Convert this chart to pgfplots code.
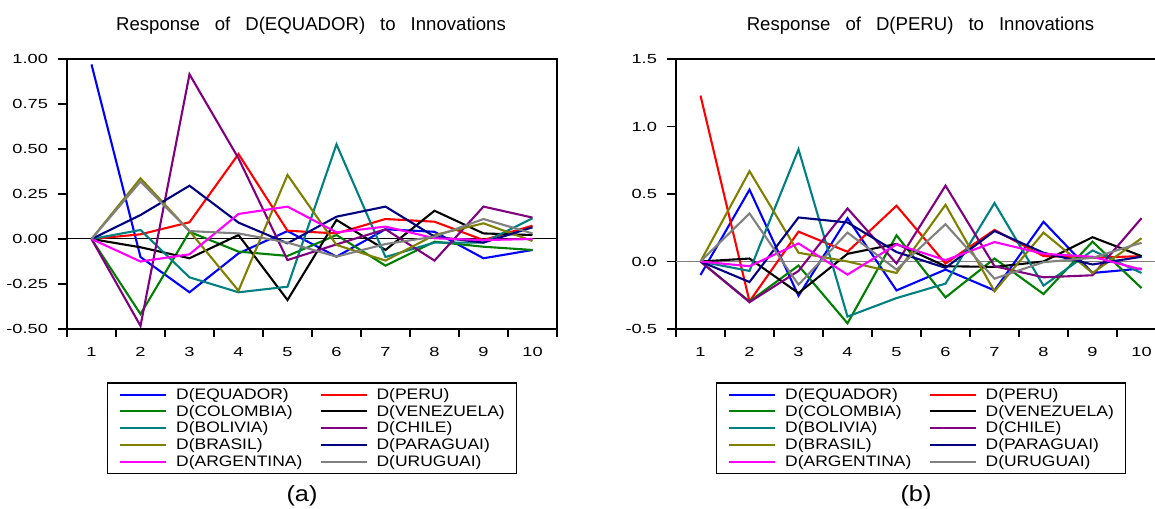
\documentclass[border=0pt]{standalone}
\usepackage{fontspec}
\setmainfont{Liberation Sans}
\newfontfamily\tickfont{Liberation Sans}[FakeStretch=1.38]
\newfontfamily\legfont{Liberation Sans}[FakeStretch=1.15]
\usepackage{pgfplots}
\pgfplotsset{compat=1.18}
\definecolor{cBlue}{RGB}{0,0,255}
\definecolor{cRed}{RGB}{255,0,0}
\definecolor{cGreen}{RGB}{0,128,0}
\definecolor{cBlack}{RGB}{0,0,0}
\definecolor{cTeal}{RGB}{0,128,128}
\definecolor{cPurple}{RGB}{128,0,128}
\definecolor{cOlive}{RGB}{128,128,0}
\definecolor{cNavy}{RGB}{0,0,128}
\definecolor{cMagenta}{RGB}{255,0,255}
\definecolor{cGray}{RGB}{128,128,128}
\newcommand\gap{\hspace{7.5pt}}
\pgfplotsset{
  evstyle/.style={
    scale only axis, width=245pt, height=135pt,
    xmin=0.5, xmax=10.5,
    xtick={1,2,3,4,5,6,7,8,9,10},
    xticklabels={1,2,3,4,5,6,7,8,9,10},
    minor xtick={0.5,1.5,2.5,3.5,4.5,5.5,6.5,7.5,8.5,9.5,10.5},
    major x tick style={draw=none},
    tick align=outside, xtick pos=bottom, ytick pos=left,
    major tick length=4.5pt, minor tick length=4pt,
    tick style={black, line width=0.6pt},
    axis line style={line width=0.9pt},
    ticklabel style={font=\tickfont\fontsize{6.6}{8}\selectfont},
    yticklabel style={xshift=-1.5pt},
    xticklabel style={yshift=-1pt},
    /pgf/number format/assume math mode=true,
    legend columns=2, legend cell align=left,
    legend style={at={(0.5,-0.2)}, anchor=north, draw=black, line width=0.6pt,
      font=\legfont\fontsize{7.6}{9}\selectfont,
      inner xsep=6pt, inner ysep=2.2pt, outer sep=0pt, row sep=1.2pt,
      nodes={inner sep=0pt, text height=6pt, text depth=1.2pt},
      /tikz/every odd column/.append style={column sep=4.5pt},
      /tikz/every even column/.append style={column sep=8.6pt}},
    legend image code/.code={\draw[##1, line width=1pt] (0pt,0pt) -- (23pt,0pt);},
    every axis plot/.append style={line width=1.05pt, mark=none},
  }
}
\begin{document}
\begin{tikzpicture}[x=1pt,y=1pt]
\useasboundingbox (0,0) rectangle (577.5,254);
\clip (0,0) rectangle (577.5,254);

\node[anchor=base, font=\fontsize{9.3}{11}\selectfont] at (155.5,238.5) {Response\gap of\gap D(EQUADOR)\gap to\gap Innovations};
\node[anchor=base, font=\fontsize{9.3}{11}\selectfont] at (460.25,238.5) {Response\gap of\gap D(PERU)\gap to\gap Innovations};
\node[font=\legfont\fontsize{11}{13}\selectfont] at (151,6) {(a)};
\node[font=\legfont\fontsize{11}{13}\selectfont] at (458,6) {(b)};

\begin{axis}[evstyle, at={(33.5pt,89.5pt)}, anchor=south west,
  ymin=-0.5, ymax=1.0,
  ytick={-0.5,-0.25,0,0.25,0.5,0.75,1.0},
  yticklabels={-0.50,-0.25,0.00,0.25,0.50,0.75,1.00}]
\addplot[black, line width=0.5pt, forget plot] coordinates {(0.5,0) (10.5,0)};
\addplot[cBlue] coordinates {(1,0.97)(2,-0.10)(3,-0.296)(4,-0.08)(5,0.044)(6,-0.098)(7,0.054)(8,0.04)(9,-0.107)(10,-0.061)};
\addlegendentry{D(EQUADOR)}
\addplot[cRed] coordinates {(1,0)(2,0.026)(3,0.093)(4,0.472)(5,0.046)(6,0.031)(7,0.111)(8,0.096)(9,-0.006)(10,0.074)};
\addlegendentry{D(PERU)}
\addplot[cGreen] coordinates {(1,0)(2,-0.417)(3,0.04)(4,-0.07)(5,-0.094)(6,0.022)(7,-0.148)(8,-0.015)(9,-0.043)(10,-0.061)};
\addlegendentry{D(COLOMBIA)}
\addplot[cBlack] coordinates {(1,0)(2,-0.046)(3,-0.107)(4,0.022)(5,-0.339)(6,0.106)(7,-0.061)(8,0.157)(9,0.031)(10,0.022)};
\addlegendentry{D(VENEZUELA)}
\addplot[cTeal] coordinates {(1,0)(2,0.05)(3,-0.213)(4,-0.296)(5,-0.265)(6,0.526)(7,-0.10)(8,-0.02)(9,-0.02)(10,0.115)};
\addlegendentry{D(BOLIVIA)}
\addplot[cPurple] coordinates {(1,0)(2,-0.483)(3,0.915)(4,0.448)(5,-0.117)(6,-0.03)(7,0.054)(8,-0.12)(9,0.18)(10,0.119)};
\addlegendentry{D(CHILE)}
\addplot[cOlive] coordinates {(1,0)(2,0.337)(3,0.044)(4,-0.287)(5,0.356)(6,-0.033)(7,-0.12)(8,0.022)(9,0.087)(10,-0.011)};
\addlegendentry{D(BRASIL)}
\addplot[cNavy] coordinates {(1,0)(2,0.133)(3,0.296)(4,0.091)(5,-0.024)(6,0.124)(7,0.18)(8,0.013)(9,-0.02)(10,0.065)};
\addlegendentry{D(PARAGUAI)}
\addplot[cMagenta] coordinates {(1,0)(2,-0.125)(3,-0.085)(4,0.139)(5,0.18)(6,0.037)(7,0.069)(8,0.004)(9,-0.006)(10,0.0)};
\addlegendentry{D(ARGENTINA)}
\addplot[cGray] coordinates {(1,0)(2,0.319)(3,0.044)(4,0.031)(5,-0.02)(6,-0.098)(7,-0.028)(8,0.013)(9,0.111)(10,0.031)};
\addlegendentry{D(URUGUAI)}
\end{axis}

\begin{axis}[evstyle, at={(338pt,89.5pt)}, anchor=south west,
  ymin=-0.5, ymax=1.5,
  ytick={-0.5,0,0.5,1.0,1.5},
  yticklabels={-0.5,0.0,0.5,1.0,1.5}]
\addplot[cGray, line width=0.5pt, forget plot] coordinates {(0.5,0) (10.5,0)};
\addplot[cBlue] coordinates {(1,-0.1)(2,0.532)(3,-0.254)(4,0.321)(5,-0.214)(6,-0.06)(7,-0.214)(8,0.294)(9,-0.085)(10,-0.052)};
\addlegendentry{D(EQUADOR)}
\addplot[cRed] coordinates {(1,1.229)(2,-0.296)(3,0.221)(4,0.072)(5,0.413)(6,-0.015)(7,0.234)(8,0.04)(9,0.027)(10,0.04)};
\addlegendentry{D(PERU)}
\addplot[cGreen] coordinates {(1,0)(2,-0.296)(3,-0.03)(4,-0.458)(5,0.194)(6,-0.266)(7,0.022)(8,-0.241)(9,0.147)(10,-0.197)};
\addlegendentry{D(COLOMBIA)}
\addplot[cBlack] coordinates {(1,0)(2,0.022)(3,-0.234)(4,0.057)(5,0.13)(6,-0.035)(7,-0.04)(8,0.0)(9,0.18)(10,0.04)};
\addlegendentry{D(VENEZUELA)}
\addplot[cTeal] coordinates {(1,0)(2,-0.07)(3,0.831)(4,-0.408)(5,-0.271)(6,-0.164)(7,0.433)(8,-0.179)(9,0.082)(10,-0.085)};
\addlegendentry{D(BOLIVIA)}
\addplot[cPurple] coordinates {(1,0)(2,-0.301)(3,-0.07)(4,0.393)(5,-0.015)(6,0.562)(7,-0.035)(8,-0.117)(9,-0.102)(10,0.321)};
\addlegendentry{D(CHILE)}
\addplot[cOlive] coordinates {(1,0)(2,0.669)(3,0.065)(4,0.0)(5,-0.085)(6,0.42)(7,-0.221)(8,0.214)(9,-0.085)(10,0.172)};
\addlegendentry{D(BRASIL)}
\addplot[cNavy] coordinates {(1,0)(2,-0.152)(3,0.326)(4,0.289)(5,0.07)(6,-0.047)(7,0.226)(8,0.065)(9,-0.022)(10,0.035)};
\addlegendentry{D(PARAGUAI)}
\addplot[cMagenta] coordinates {(1,0)(2,-0.035)(3,0.134)(4,-0.097)(5,0.127)(6,0.01)(7,0.144)(8,0.057)(9,0.035)(10,-0.06)};
\addlegendentry{D(ARGENTINA)}
\addplot[cGray] coordinates {(1,0)(2,0.356)(3,-0.172)(4,0.214)(5,-0.06)(6,0.276)(7,-0.127)(8,-0.005)(9,0.027)(10,0.139)};
\addlegendentry{D(URUGUAI)}
\end{axis}
\end{tikzpicture}
\end{document}
